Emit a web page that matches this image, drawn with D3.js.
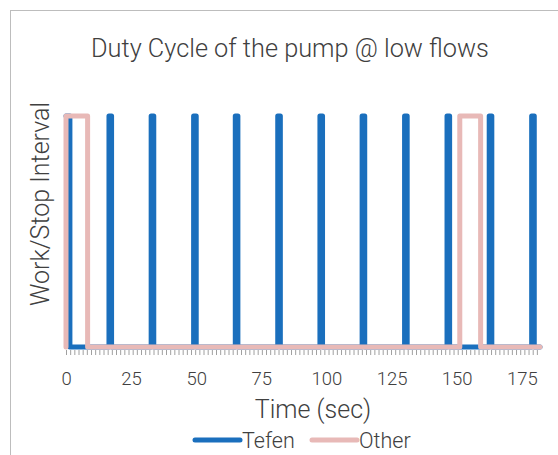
<!DOCTYPE html>
<html>
<head>
<meta charset="utf-8">
<script src="https://cdn.jsdelivr.net/npm/d3@7"></script>
<style>
  body { margin: 0; background: #fff; }
  text { font-family: Roboto, "Open Sans", sans-serif; font-weight: 300; fill: #404040; }
</style>
</head>
<body>
<div id="chart"></div>
<script>
// pump on (1) / off (0) against time in seconds
var tefenTime  = [0, 1.5, 1.5, 16.5, 16.5, 17.5, 17.5, 32.7, 32.7, 33.7, 33.7, 49, 49, 50, 50,
                  65, 65, 66, 66, 81.3, 81.3, 82.3, 82.3, 97.5, 97.5, 98.5, 98.5, 113.7, 113.7, 114.7, 114.7,
                  130, 130, 131, 131, 146.3, 146.3, 147.3, 147.3, 162.5, 162.5, 163.5, 163.5,
                  178.8, 178.8, 179.8, 179.8, 182];
var tefenState = [1, 1, 0, 0, 1, 1, 0, 0, 1, 1, 0, 0, 1, 1, 0,
                  0, 1, 1, 0, 0, 1, 1, 0, 0, 1, 1, 0, 0, 1, 1, 0,
                  0, 1, 1, 0, 0, 1, 1, 0, 0, 1, 1, 0,
                  0, 1, 1, 0, 0];
var otherTime  = [0, 0, 8.3, 8.3, 151.2, 151.2, 159.2, 159.2, 182];
var otherState = [0, 1, 1, 0, 0, 1, 1, 0, 0];
var xTickLabels = [0, 25, 50, 75, 100, 125, 150, 175];
var minorStep = 1.6;
var seriesNames = ["Tefen", "Other"];
var seriesColors = ["#1a6fbd", "#e8b9b7"];

var width = 558, height = 455;
var svg = d3.select("#chart").append("svg")
    .attr("width", width)
    .attr("height", height);

// chart frame (cropped on the right and bottom)
svg.append("rect")
    .attr("x", 10.5).attr("y", 10.5)
    .attr("width", 600).attr("height", 500)
    .attr("fill", "none")
    .attr("stroke", "#bdbdbd");

var x = d3.scaleLinear().domain([0, 182]).range([66, 540]);
var y = d3.scaleLinear().domain([0, 1]).range([347, 116]);

svg.append("text")
    .attr("x", 290).attr("y", 57)
    .attr("text-anchor", "middle")
    .style("font-size", "25.3px")
    .text("Duty Cycle of the pump @ low flows");

// minor ticks under the axis
var minorTicks = d3.range(0, 182, minorStep);
svg.append("g")
    .attr("transform", "translate(0,350)")
    .call(d3.axisBottom(x).tickValues(minorTicks).tickSize(5).tickFormat(""))
    .call(function(g) {
      g.select(".domain").remove();
      g.selectAll("line").attr("stroke", "#a0a0a0");
    });

svg.append("g")
    .attr("transform", "translate(0,350)")
    .call(d3.axisBottom(x).tickValues(xTickLabels).tickSize(0).tickPadding(22))
    .call(function(g) {
      g.select(".domain").remove();
      g.selectAll("text").style("font-size", "18.5px").attr("fill", "#404040")
        .style("font-family", "Roboto, sans-serif");
    });

svg.append("text")
    .attr("x", 313).attr("y", 418)
    .attr("text-anchor", "middle")
    .style("font-size", "25px")
    .text("Time (sec)");

svg.append("text")
    .attr("transform", "translate(49,204) rotate(-90)")
    .attr("text-anchor", "middle")
    .style("font-size", "25px")
    .text("Work/Stop Interval");

var line = d3.line()
    .x(function(d) { return x(d[0]); })
    .y(function(d) { return y(d[1]); });

var tefen = d3.zip(tefenTime, tefenState);
var other = d3.zip(otherTime, otherState);

svg.append("path")
    .datum(tefen)
    .attr("d", line)
    .attr("fill", "none")
    .attr("stroke", seriesColors[0])
    .attr("stroke-width", 5)
    .attr("stroke-linejoin", "round")
    .attr("stroke-linecap", "round");

svg.append("path")
    .datum(other)
    .attr("d", line)
    .attr("fill", "none")
    .attr("stroke", seriesColors[1])
    .attr("stroke-width", 5)
    .attr("stroke-linejoin", "round")
    .attr("stroke-linecap", "round");

// legend
var legendX = [195, 312];
var legend = svg.append("g").selectAll("g")
    .data(seriesNames)
    .enter().append("g")
    .attr("transform", function(d, i) { return "translate(" + legendX[i] + ",440)"; });
legend.append("line")
    .attr("x1", 0).attr("x2", 45)
    .attr("stroke", function(d, i) { return seriesColors[i]; })
    .attr("stroke-width", 5)
    .attr("stroke-linecap", "round");
legend.append("text")
    .attr("x", 47).attr("y", 8)
    .style("font-size", "21.5px")
    .text(function(d) { return d; });
</script>
</body>
</html>
